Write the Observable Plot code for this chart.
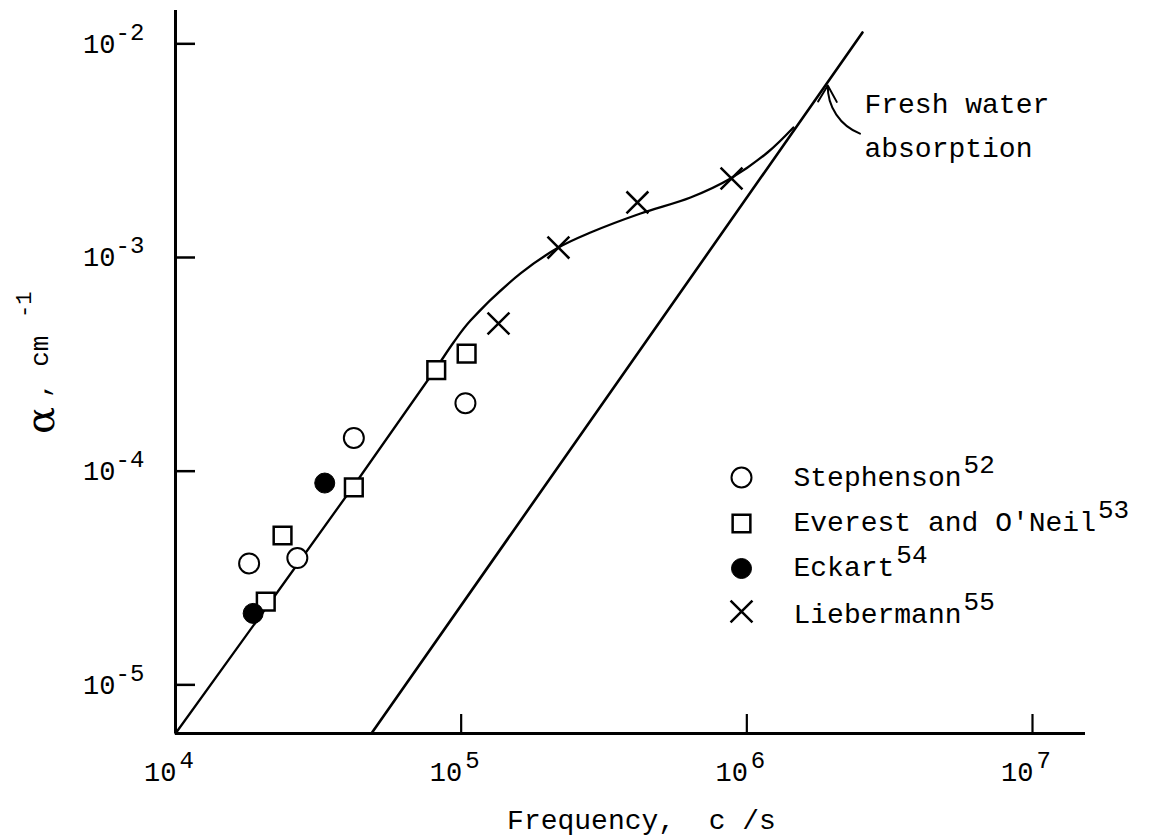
<!DOCTYPE html>
<html><head><meta charset="utf-8">
<script src="https://cdn.jsdelivr.net/npm/d3@7"></script>
<script src="https://cdn.jsdelivr.net/npm/@observablehq/plot@0.6"></script>
<style>
html,body{margin:0;padding:0;background:#fff;}
#chart svg{display:block;background:#fff;}
</style></head><body><div id="chart"></div>
<script>
// ---- data (frequency in c/s, alpha in cm^-1) ----
const curveFreq  = [1e4, 4.165e4, 8.07e4, 9.40e4, 1.078e5, 1.614e5, 2.19e5, 2.836e5, 4.246e5, 6.35e5, 8.77e5, 1.181e6, 1.456e6];
const curveAlpha = [5.92e-6, 8.39e-5, 2.96e-4, 4.00e-4, 5.07e-4, 8.42e-4, 1.113e-3, 1.309e-3, 1.607e-3, 1.909e-3, 2.343e-3, 3.10e-3, 4.06e-3];
const freshFreq  = [4.85e4, 2.54e6];
const freshAlpha = [5.92e-6, 1.13e-2];
const stephensonFreq  = [1.81e4, 2.67e4, 4.21e4, 1.035e5];
const stephensonAlpha = [3.70e-5, 3.92e-5, 1.43e-4, 2.08e-4];
const everestFreq  = [2.07e4, 2.37e4, 4.21e4, 8.18e4, 1.045e5];
const everestAlpha = [2.45e-5, 5.0e-5, 8.4e-5, 2.97e-4, 3.55e-4];
const eckartFreq  = [1.87e4, 3.33e4];
const eckartAlpha = [2.16e-5, 8.8e-5];
const liebermannFreq  = [1.351e5, 2.19e5, 4.14e5, 8.84e5];
const liebermannAlpha = [4.91e-4, 1.113e-3, 1.81e-3, 2.343e-3];
const xTicks = [1e4, 1e5, 1e6, 1e7];
const xTickExps = ["4", "5", "6", "7"];
const yTicks = [1e-2, 1e-3, 1e-4, 1e-5];
const yTickExps = ["-2", "-3", "-4", "-5"];
const legendNames = ["Stephenson", "Everest and O'Neil", "Eckart", "Liebermann"];
const legendRefs = ["52", "53", "54", "55"];
const annotText = "Fresh water\nabsorption";
const annotArrowFreq = [2.49e6, 1.92e6];
const annotArrowAlpha = [3.8e-3, 6.38e-3];
const annotTextFreq = 2.58e6, annotTextAlpha = 2.94e-3;
const xLabel = "Frequency,  c /s";
const xDomain = [1e4, 1.533e7];
const yDomain = [5.92e-6, 1.432e-2];

// ---- build tables ----
const zip = (fs, as) => fs.map((f, i) => ({f, a: as[i]}));
const curve = zip(curveFreq, curveAlpha);
const fresh = zip(freshFreq, freshAlpha);
const stephenson = zip(stephensonFreq, stephensonAlpha);
const everest = zip(everestFreq, everestAlpha);
const eckart = zip(eckartFreq, eckartAlpha);
const liebermann = zip(liebermannFreq, liebermannAlpha);

const MONO = "'Liberation Mono', 'Courier New', monospace";
const legendStyle = [
  {symbol: "circle", fill: "white", stroke: "black", strokeWidth: 2},
  {symbol: "square", fill: "white", stroke: "black", strokeWidth: 2.5},
  {symbol: "circle", fill: "black", stroke: "black", strokeWidth: 1},
  {symbol: "times", fill: "none", stroke: "black", strokeWidth: 2.5}
];
const legendRowY = [467, 513, 558, 601];
const legendBaseY = [475, 520, 565, 612];

const marks = [
  // axes lines
  Plot.ruleX([xDomain[0]], {stroke: "black", strokeWidth: 3}),
  Plot.ruleY([yDomain[0]], {stroke: "black", strokeWidth: 3}),
  // inward ticks
  Plot.tickY(yTicks, {y: d => d, stroke: "black", strokeWidth: 2.5, insetRight: 890}),
  Plot.tickX(xTicks.slice(1), {x: d => d, stroke: "black", strokeWidth: 2.2, insetTop: 704}),
  // y tick labels
  Plot.text(yTicks, {y: d => d, frameAnchor: "left", text: () => "10", textAnchor: "end", lineAnchor: "bottom",
    dx: -60, dy: 9, fontFamily: MONO, fontSize: 27, fill: "black"}),
  Plot.text(yTicks, {y: d => d, frameAnchor: "left", text: (d, i) => yTickExps[i], textAnchor: "start", lineAnchor: "bottom",
    dx: -60, dy: -4, fontFamily: MONO, fontSize: 24, fill: "black"}),
  // x tick labels
  Plot.text(xTicks, {x: d => d, frameAnchor: "bottom", text: () => "10", textAnchor: "end", lineAnchor: "bottom",
    dx: 1, dy: 47, fontFamily: MONO, fontSize: 27, fill: "black"}),
  Plot.text(xTicks, {x: d => d, frameAnchor: "bottom", text: (d, i) => xTickExps[i], textAnchor: "start", lineAnchor: "bottom",
    dx: 4, dy: 34, fontFamily: MONO, fontSize: 24, fill: "black"}),
  // axis titles
  Plot.text([xLabel], {frameAnchor: "bottom", text: d => d, dx: 11, dy: 95, lineAnchor: "bottom",
    fontFamily: MONO, fontSize: 28, fill: "black"}),
  Plot.text(["\u03b1"], {frameAnchor: "left", text: d => d, rotate: -90, textAnchor: "start", lineAnchor: "bottom",
    dx: -122, dy: 62, fontFamily: "'DejaVu Serif', serif", fontSize: 40, fill: "black"}),
  Plot.text([", cm"], {frameAnchor: "left", text: d => d, rotate: -90, textAnchor: "start", lineAnchor: "bottom",
    dx: -128, dy: 26, fontFamily: MONO, fontSize: 26, fill: "black"}),
  Plot.text(["-1"], {frameAnchor: "left", text: d => d, rotate: -90, textAnchor: "start", lineAnchor: "bottom",
    dx: -145, dy: -54, fontFamily: MONO, fontSize: 22, fill: "black"}),
  // lines
  Plot.line(fresh, {x: "f", y: "a", stroke: "black", strokeWidth: 2.6}),
  Plot.line(curve, {x: "f", y: "a", stroke: "black", strokeWidth: 2.3, curve: "catmull-rom"}),
  // data markers
  Plot.dot(stephenson, {x: "f", y: "a", r: 10, ...legendStyle[0]}),
  Plot.dot(everest, {x: "f", y: "a", r: 10, ...legendStyle[1]}),
  Plot.dot(eckart, {x: "f", y: "a", r: 10, ...legendStyle[2]}),
  Plot.dot(liebermann, {x: "f", y: "a", r: 10, ...legendStyle[3]}),
  // annotation
  Plot.arrow([0], {x1: () => annotArrowFreq[0], y1: () => annotArrowAlpha[0], x2: () => annotArrowFreq[1], y2: () => annotArrowAlpha[1],
    bend: 35, stroke: "black", strokeWidth: 2, headLength: 14}),
  Plot.text([annotText], {x: () => annotTextFreq, y: () => annotTextAlpha, text: d => d, textAnchor: "start", lineAnchor: "bottom",
    lineHeight: 1.6, fontFamily: MONO, fontSize: 28, fill: "black"})
];

// legend rows
legendNames.forEach((name, i) => {
  marks.push(Plot.dot([name], {frameAnchor: "top-left", dx: 566, dy: legendRowY[i], r: 10, ...legendStyle[i]}));
  marks.push(Plot.text([name], {frameAnchor: "top-left", text: d => d, dx: 618, dy: legendBaseY[i], textAnchor: "start",
    lineAnchor: "bottom", fontFamily: MONO, fontSize: 28, fill: "black"}));
});

const svg = Plot.plot({
  width: 1160, height: 836,
  marginLeft: 175, marginRight: 75, marginTop: 10, marginBottom: 103,
  x: {type: "log", domain: xDomain, axis: null},
  y: {type: "log", domain: yDomain, axis: null},
  style: {background: "white", overflow: "visible"},
  marks
});

// superscript reference numbers in the legend
legendNames.forEach((name, i) => {
  d3.select(svg).selectAll("text").filter(function () { return this.textContent === name; }).each(function () {
    d3.select(this).append("tspan").attr("dx", 2).attr("dy", -13).attr("font-size", 26).text(legendRefs[i]);
  });
});

document.getElementById("chart").appendChild(svg);
</script></body></html>
